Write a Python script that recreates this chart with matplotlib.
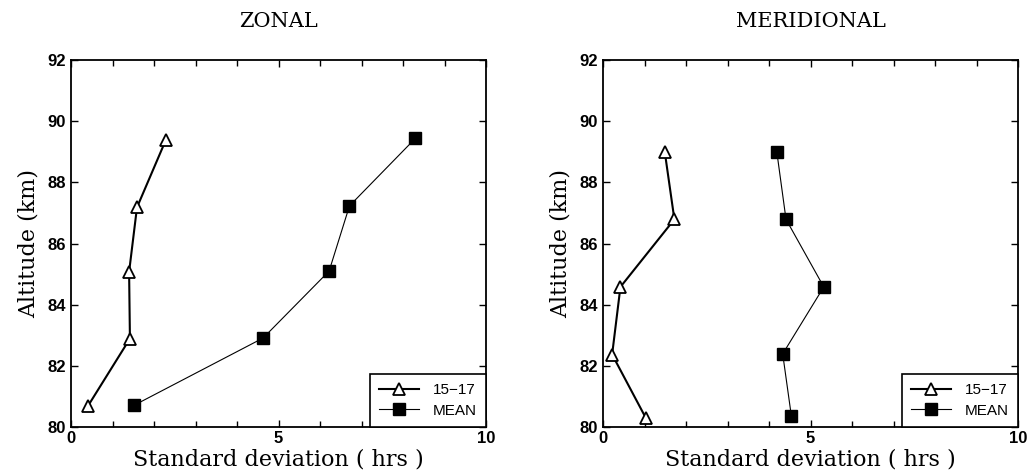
import matplotlib
matplotlib.use("Agg")
import matplotlib.pyplot as plt
from matplotlib.ticker import MultipleLocator

# Data
zonal_1517_sd = [0.41, 1.42, 1.40, 1.59, 2.29]
zonal_1517_alt = [80.69, 82.89, 85.07, 87.18, 89.40]
zonal_mean_sd = [1.52, 4.63, 6.22, 6.71, 8.30]
zonal_mean_alt = [80.71, 82.91, 85.10, 87.23, 89.44]

mer_1517_sd = [1.03, 0.22, 0.42, 1.72, 1.49]
mer_1517_alt = [80.30, 82.37, 84.58, 86.79, 88.98]
mer_mean_sd = [4.54, 4.33, 5.32, 4.41, 4.19]
mer_mean_alt = [80.35, 82.39, 84.58, 86.79, 88.98]

titles = ["ZONAL", "MERIDIONAL"]
series_labels = ["15\u221217", "MEAN"]
xlabel = "Standard deviation ( hrs )"
ylabel = "Altitude (km)"

W, H = 1027, 475
fig = plt.figure(figsize=(W / 100, H / 100), dpi=100)

panels = [
    (71, (zonal_1517_sd, zonal_1517_alt, zonal_mean_sd, zonal_mean_alt)),
    (603, (mer_1517_sd, mer_1517_alt, mer_mean_sd, mer_mean_alt)),
]

serif = ["DejaVu Serif"]
sans = ["Liberation Sans", "DejaVu Sans"]

for i, (left_px, (s1x, s1y, s2x, s2y)) in enumerate(panels):
    ax = fig.add_axes([left_px / W, (H - 427) / H, 415 / W, 367 / H])
    ax.plot(s1x, s1y, color="black", lw=1.5, marker="^", markersize=9,
            markerfacecolor="white", markeredgecolor="black", markeredgewidth=1.3,
            label=series_labels[0])
    ax.plot(s2x, s2y, color="black", lw=0.8, marker="s", markersize=9,
            markerfacecolor="black", markeredgecolor="black",
            label=series_labels[1])
    ax.set_xlim(0, 10)
    ax.set_ylim(80, 92)
    ax.set_xticks([0, 5, 10])
    ax.xaxis.set_minor_locator(MultipleLocator(1))
    ax.set_yticks([80, 82, 84, 86, 88, 90, 92])
    ax.tick_params(which="both", direction="in", top=True, right=True)
    ax.tick_params(which="major", length=5, width=1)
    ax.tick_params(which="minor", length=4, width=1)
    ax.tick_params(axis="x", pad=3)
    for lab in ax.get_xticklabels() + ax.get_yticklabels():
        lab.set_family(sans)
        lab.set_fontsize(12)
        lab.set_fontweight("bold")
    for sp in ax.spines.values():
        sp.set_linewidth(1.3)
    ax.set_title(titles[i], family=serif, fontsize=15, pad=24)
    ax.set_xlabel(xlabel, family=serif, fontsize=16, labelpad=2)
    ax.set_ylabel(ylabel, family=serif, fontsize=16, labelpad=6)
    leg = ax.legend(loc="lower right", borderaxespad=0, fancybox=False,
                    edgecolor="black", framealpha=1, prop={"family": sans, "size": 11},
                    handlelength=2.6, borderpad=0.6, labelspacing=0.45,
                    handletextpad=0.9)
    leg.get_frame().set_linewidth(1.2)

fig.savefig("out.png", dpi=100)
